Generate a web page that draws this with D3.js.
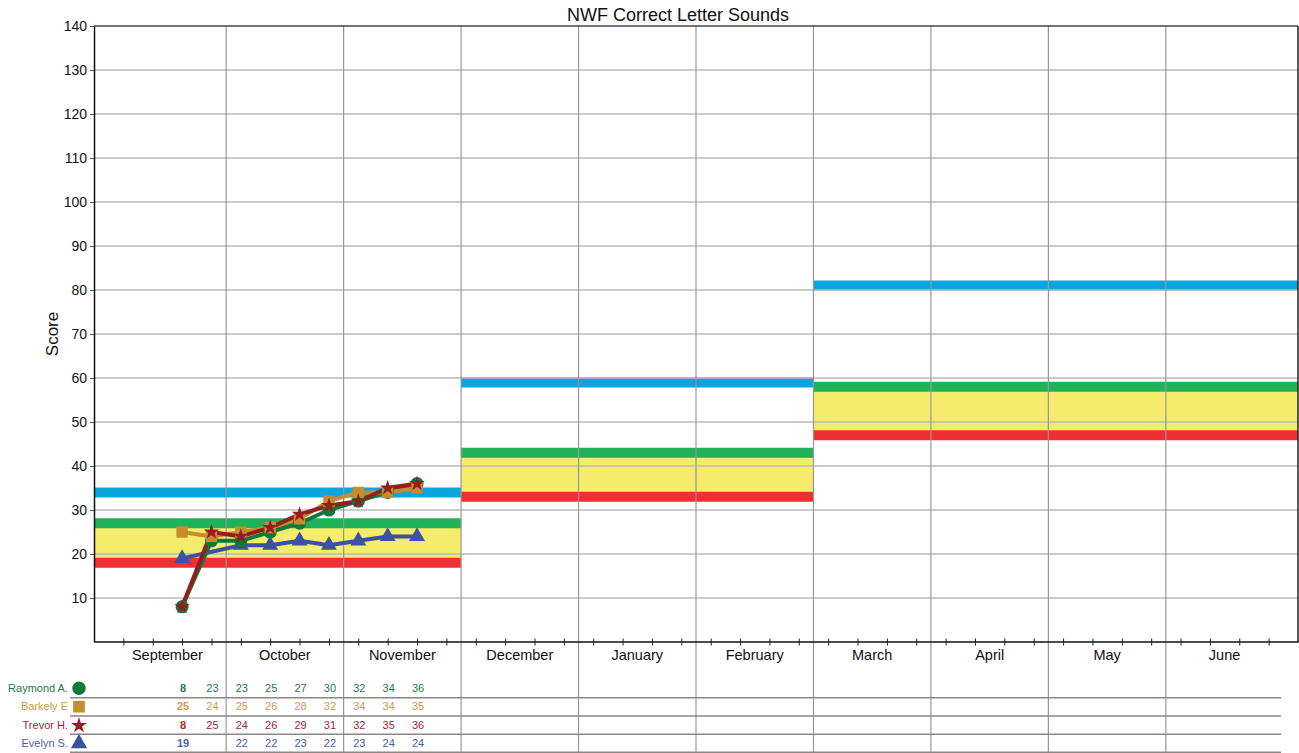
<!DOCTYPE html>
<html><head><meta charset="utf-8">
<script src="https://cdn.jsdelivr.net/npm/d3@7"></script>
<style>
body{margin:0;background:#fff;}
text{font-family:"Liberation Sans",Arial,Helvetica,sans-serif;}
</style></head>
<body>
<svg id="chart" width="1299" height="753"></svg>
<script>
// ---- data ----
const months = ["September","October","November","December","January","February","March","April","May","June"];
const yTicks = [10,20,30,40,50,60,70,80,90,100,110,120,130,140];
// week index counted from first week of September (0-based)
const weeks = [2,3,4,5,6,7,8,9,10];
const studentNames = ["Raymond A.","Barkely E","Trevor H.","Evelyn S."];
const raymond = [8,23,23,25,27,30,32,34,36];
const barkely = [25,24,25,26,28,32,34,34,35];
const trevor  = [8,25,24,26,29,31,32,35,36];
const evelyn  = [19,null,22,22,23,22,23,24,24];
// benchmark periods (month index start/end)
const periodStart = [0,3,6];
const periodEnd   = [3,6,10];
const blueGoal  = [34,59,81];
const greenGoal = [27,43,58];
const redGoal   = [18,33,47];

(function(){
// ---- styles ----
const lineColors = ["#0d7a3c","#c68c2d","#961c20","#3a51a4"];
const textColors = ["#1f7a47","#d29a45","#a6272c","#4a5eae"];
const symbols = [d3.symbolCircle, d3.symbolSquare, d3.symbolStar, d3.symbolTriangle];
const symSizes = [135, 130, 75, 110];
const series = [raymond, barkely, trevor, evelyn];

const svg = d3.select("#chart");
const pL = 94, pR = 1298, pT = 26, pB = 642;
const x = d3.scaleLinear().domain([-0.5, months.length*4 + 0.5]).range([pL, pR]);
const y = d3.scaleLinear().domain([0,140]).range([pB, pT]);

// bands
const gBand = svg.append("g");
periodStart.forEach((s,i)=>{
  const x0 = i===0 ? x(x.domain()[0]) : x(s*4);
  const x1 = i===periodStart.length-1 ? x(x.domain()[1]) : x(periodEnd[i]*4);
  gBand.append("rect").attr("x",x0).attr("width",x1-x0)
    .attr("y",y(greenGoal[i])).attr("height",y(redGoal[i])-y(greenGoal[i]))
    .attr("fill","#f4ec6a");
  [[blueGoal[i],"#0aa4df"],[greenGoal[i],"#1fb257"],[redGoal[i],"#ee3035"]].forEach(([v,c])=>{
    gBand.append("line").attr("x1",x0).attr("x2",x1).attr("y1",y(v)).attr("y2",y(v))
      .attr("stroke",c).attr("stroke-width",10);
  });
});

// horizontal gridlines
svg.append("g").selectAll("line").data(yTicks.filter(d=>d<140)).join("line")
  .attr("x1",pL).attr("x2",pR).attr("y1",d=>y(d)).attr("y2",d=>y(d))
  .attr("stroke","#bdb9b9").attr("stroke-width",1.5);

// vertical month boundaries (extend into table)
svg.append("g").selectAll("line").data(d3.range(1,months.length)).join("line")
  .attr("x1",d=>x(d*4)).attr("x2",d=>x(d*4)).attr("y1",pT).attr("y2",753)
  .attr("stroke","#9b9696").attr("stroke-width",1.2);

// frame
svg.append("line").attr("x1",pL).attr("x2",pR).attr("y1",pT).attr("y2",pT).attr("stroke","#444").attr("stroke-width",1.5);
svg.append("line").attr("x1",pR).attr("x2",pR).attr("y1",pT).attr("y2",pB).attr("stroke","#222").attr("stroke-width",1.5);

// y axis
const ya = svg.append("g").attr("transform",`translate(${pL},0)`)
  .call(d3.axisLeft(y).tickValues(yTicks).tickSize(4).tickSizeOuter(0).tickPadding(3));
ya.select(".domain").attr("stroke","#111").attr("stroke-width",1.5);
ya.selectAll(".tick line").attr("stroke","#555");
ya.selectAll("text").attr("font-size",14).attr("fill","#111").style("font-family","Liberation Sans, Arial, sans-serif");

// x axis
const xa = svg.append("g").attr("transform",`translate(0,${pB-0.5})`)
  .call(d3.axisBottom(x).tickValues(d3.range(0,months.length*4).map(d=>d+0.5)).tickSize(4).tickSizeOuter(0).tickFormat(""));
xa.select(".domain").attr("stroke","#111").attr("stroke-width",1.5);
xa.selectAll(".tick line").attr("y1",-3).attr("stroke","#222");

// month labels
svg.append("g").selectAll("text").data(months).join("text")
  .attr("x",(d,i)=>x(i*4+2)).attr("y",659.5).attr("text-anchor","middle")
  .attr("font-size",14.5).attr("fill","#111").text(d=>d);

// title & y label
svg.append("text").attr("x",678).attr("y",21).attr("text-anchor","middle")
  .attr("font-size",18).attr("fill","#111").text("NWF Correct Letter Sounds");
svg.append("text").attr("transform","translate(58,334) rotate(-90)").attr("text-anchor","middle")
  .attr("font-size",17).attr("fill","#111").text("Score");

// series lines and markers
const order = [3,0,1,2];
order.forEach(si=>{
  const pts = weeks.map((w,j)=>({w, v:series[si][j]})).filter(p=>p.v!=null);
  const line = d3.line().x(p=>x(p.w+0.5)).y(p=>y(p.v));
  svg.append("path").attr("d",line(pts)).attr("fill","none")
    .attr("stroke",lineColors[si]).attr("stroke-width",4).attr("stroke-linejoin","round");
});
order.forEach(si=>{
  const pts = weeks.map((w,j)=>({w, v:series[si][j]})).filter(p=>p.v!=null);
  svg.append("g").selectAll("path").data(pts).join("path")
    .attr("transform",p=>`translate(${x(p.w+0.5)},${y(p.v)})`)
    .attr("d",d3.symbol().type(symbols[si]).size(symSizes[si]))
    .attr("fill",lineColors[si]);
});

// table
const rowBase = [691.5,710,728.8,747.3];
const rowSym = [688.3,706.7,725.5,743.5];
const rowLines = [697.7,716,734.3,752.2];
svg.append("g").selectAll("line").data(rowLines).join("line")
  .attr("x1",70).attr("x2",1281).attr("y1",d=>d).attr("y2",d=>d)
  .attr("stroke","#8a8686").attr("stroke-width",1.5);
studentNames.forEach((n,si)=>{
  svg.append("text").attr("x",68).attr("y",rowBase[si]).attr("text-anchor","end")
    .attr("font-size",11).attr("fill",textColors[si]).text(n);
  svg.append("path").attr("transform",`translate(79,${rowSym[si]})`)
    .attr("d",d3.symbol().type(symbols[si]).size(symSizes[si]*1.05)).attr("fill",lineColors[si]);
  svg.append("g").selectAll("text").data(weeks.map((w,j)=>({w,v:series[si][j],j})).filter(p=>p.v!=null))
    .join("text").attr("x",p=>x(p.w+0.5)+1).attr("y",rowBase[si]).attr("text-anchor","middle")
    .attr("font-size",11).attr("font-weight",p=>p.j===0?"bold":"normal")
    .attr("fill",textColors[si]).text(p=>p.v);
});
})();
</script>
</body></html>
